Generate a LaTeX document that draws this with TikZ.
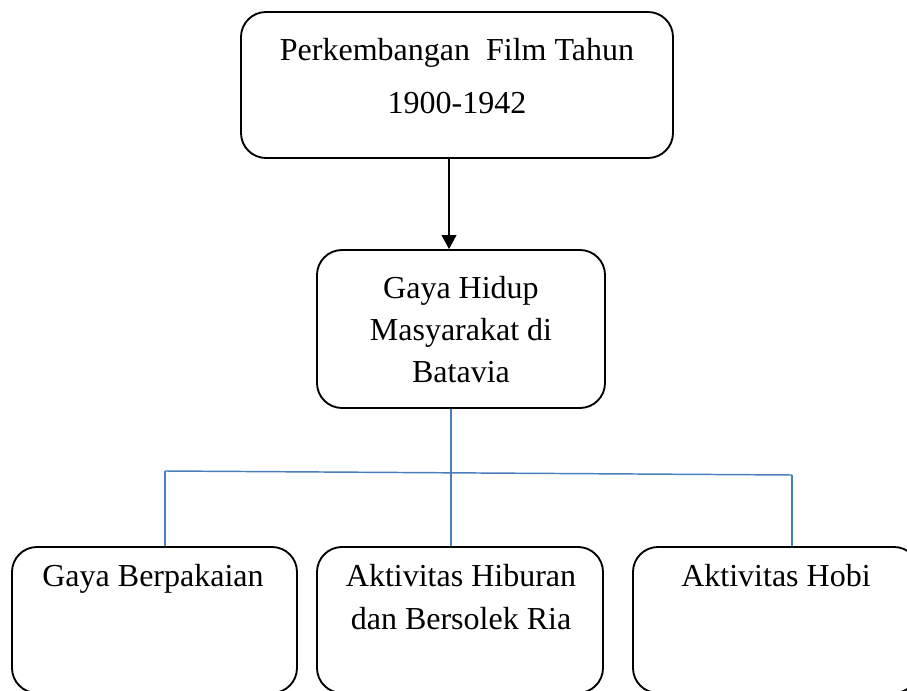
\documentclass[tikz,border=0pt]{standalone}
\usepackage{fontspec}
\setmainfont{Liberation Serif}
\usetikzlibrary{arrows.meta,positioning}
\definecolor{linkblue}{RGB}{74,126,187}

\begin{document}
\begin{tikzpicture}[x=0.75pt,y=-0.75pt,
  box/.style={draw, line width=1.4pt, rounded corners=18.75pt, inner sep=0pt},
  boxtext/.style={inner sep=0pt, anchor=north, align=center},
  link/.style={linkblue, line width=1.1pt}]
  \clip (0,0) rectangle (907,691);
  \fill[white] (0,0) rectangle (907,691);
  % boxes and their texts
  \node[box, minimum width=324pt, minimum height=109.5pt] (film) at (457,85) {};
  \node[boxtext, font=\fontsize{24pt}{39.75pt}\selectfont] (filmtxt) at (457,38) {Perkembangan\ \ Film Tahun\\1900-1942};
  \node[box, minimum width=216pt, minimum height=118.5pt] (gaya) at (461,329) {};
  \node[boxtext, font=\fontsize{24pt}{31.5pt}\selectfont] (gayatxt) at (461,276) {Gaya Hidup\\Masyarakat di\\Batavia};
  \node[box, minimum width=213.75pt, minimum height=109.5pt] (pakai) at (154.5,620) {};
  \node[boxtext, font=\fontsize{24pt}{32.25pt}\selectfont] (pakaitxt) at (153,564) {Gaya Berpakaian};
  \node[box, minimum width=214.5pt, minimum height=109.5pt] (hibur) at (460,620) {};
  \node[boxtext, font=\fontsize{24pt}{32.25pt}\selectfont] (hiburtxt) at (461,564) {Aktivitas Hiburan\\dan Bersolek Ria};
  \node[box, minimum width=214.5pt, minimum height=109.5pt] (hobi) at (776,620) {};
  \node[boxtext, font=\fontsize{24pt}{32.25pt}\selectfont] (hobitxt) at (776,564) {Aktivitas Hobi};
  % connectors
  \coordinate (axis) at (449,0);
  \draw[line width=1.5pt, -{Triangle[length=10.5pt,width=11pt]}] (film.south -| axis) -- (gaya.north -| axis);
  \coordinate (barL) at (165,471);
  \coordinate (barM) at (451,473);
  \coordinate (barR) at (792,475);
  \draw[link] (gaya.south -| barM) -- (barM);
  \draw[link] (barL) -- (barR);
  \draw[link] (barL) -- (pakai.north -| barL);
  \draw[link] (barM) -- (hibur.north -| barM);
  \draw[link] (barR) -- (hobi.north -| barR);
\end{tikzpicture}
\end{document}
